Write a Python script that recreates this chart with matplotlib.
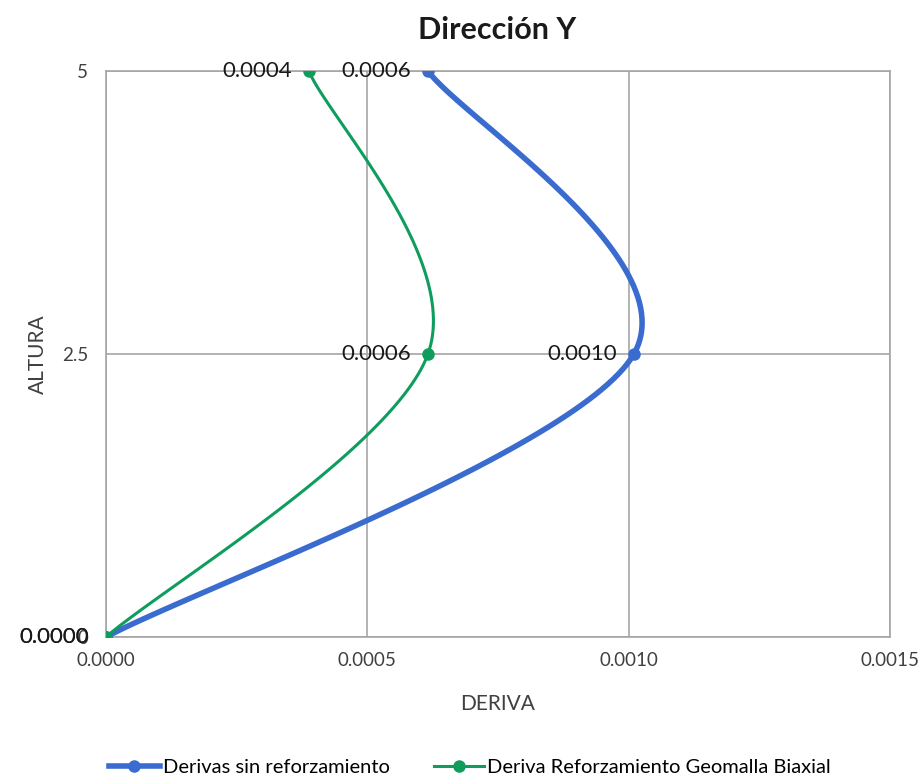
import numpy as np
import matplotlib.pyplot as plt

# datos
altura = [0, 2.5, 5]
deriva_sin = [0.0, 0.00101, 0.000616]
deriva_geo = [0.0, 0.000616, 0.000388]
etiq_sin = ["0.0000", "0.0010", "0.0006"]
etiq_geo = ["0.0000", "0.0006", "0.0004"]

plt.rcParams['font.family'] = ['Lato', 'DejaVu Sans']


def suavizar(x, y, n=60):
    # curva suave tipo Excel (Catmull-Rom con Bezier)
    p = np.column_stack([x, y]).astype(float)
    p = np.vstack([p[0], p, p[-1]])
    out = []
    for i in range(1, len(p) - 2):
        p0, p1, p2, p3 = p[i - 1], p[i], p[i + 1], p[i + 2]
        c1 = p1 + (p2 - p0) / 6
        c2 = p2 - (p3 - p1) / 6
        t = np.linspace(0, 1, n)[:, None]
        b = ((1 - t) ** 3) * p1 + 3 * ((1 - t) ** 2) * t * c1 + 3 * (1 - t) * t ** 2 * c2 + t ** 3 * p2
        out.append(b)
    out = np.vstack(out)
    return out[:, 0], out[:, 1]


fig = plt.figure(figsize=(9.24, 7.77), dpi=100)
ax = fig.add_axes([106 / 924, 1 - 637 / 777, 784 / 924, 566 / 777])

azul = '#3A6BCF'
verde = '#0F9D5E'

xs, ys = suavizar(deriva_sin, altura)
ax.plot(xs, ys, color=azul, linewidth=4, solid_capstyle='round', zorder=3)
ax.plot(deriva_sin, altura, 'o', color=azul, markersize=8, zorder=4)
xg, yg = suavizar(deriva_geo, altura)
ax.plot(xg, yg, color=verde, linewidth=2.2, zorder=3)
ax.plot(deriva_geo, altura, 'o', color=verde, markersize=8, zorder=4)

for xv, yv, t in zip(deriva_sin, altura, etiq_sin):
    ax.annotate(t, (xv, yv), xytext=(-12, 0), textcoords='offset points',
                ha='right', va='center', fontsize=16, color='#1a1a1a')
for xv, yv, t in zip(deriva_geo, altura, etiq_geo):
    ax.annotate(t, (xv, yv), xytext=(-12, 0), textcoords='offset points',
                ha='right', va='center', fontsize=16, color='#1a1a1a')

ax.set_xlim(0, 0.0015)
ax.set_ylim(0, 5)
ax.set_xticks([0, 0.0005, 0.001, 0.0015])
ax.set_xticklabels(["0.0000", "0.0005", "0.0010", "0.0015"])
ax.set_yticks([0, 2.5, 5])
ax.set_yticklabels(["0", "2.5", "5"])
ax.tick_params(length=0, labelsize=13.5, labelcolor='#404040')
ax.tick_params(axis='x', pad=11)
ax.tick_params(axis='y', pad=13)
ax.grid(True, color='#A6A6A6', linewidth=1.2)
for s in ax.spines.values():
    s.set_color('#A6A6A6')
    s.set_linewidth(1.2)

ax.set_xlabel("DERIVA", fontsize=15, color='#404040', labelpad=18)
ax.set_ylabel("ALTURA", fontsize=15, color='#404040', labelpad=10)
fig.text(497 / 924, 1 - 30 / 777, "Dirección Y", ha='center', va='center',
         fontsize=22, fontweight='bold', color='#1a1a1a')

h1, = ax.plot([], [], '-o', color=azul, linewidth=4, markersize=8,
              label="Derivas sin reforzamiento")
h2, = ax.plot([], [], '-o', color=verde, linewidth=2.2, markersize=8,
              label="Deriva Reforzamiento Geomalla Biaxial")
fig.legend(handles=[h1, h2], loc='center', bbox_to_anchor=(470 / 924, 1 - 767 / 777),
           ncol=2, frameon=False, fontsize=14.5, handlelength=2.5,
           columnspacing=2.2, handletextpad=0.15)

plt.savefig("out.png", dpi=100)
